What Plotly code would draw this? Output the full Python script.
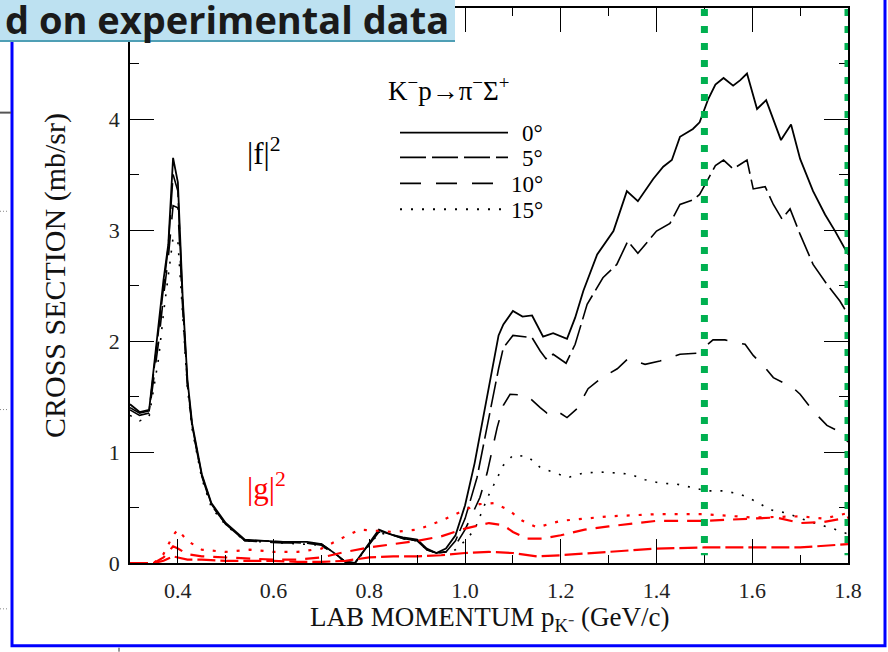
import plotly.graph_objects as go

# ---------------- data ----------------
low_x = [0.30, 0.32, 0.34, 0.36, 0.37, 0.38, 0.39, 0.40, 0.41, 0.42, 0.43, 0.45, 0.47, 0.50,
         0.54, 0.58, 0.62, 0.67, 0.70, 0.73, 0.75, 0.77, 0.79, 0.82, 0.85, 0.87, 0.90, 0.92, 0.94]

f0_low = [1.43, 1.36, 1.38, 2.15, 2.55, 2.87, 3.65, 3.43, 2.40, 1.65, 1.25, 0.80, 0.54, 0.36,
          0.21, 0.20, 0.19, 0.19, 0.17, 0.08, 0.01, 0.00, 0.12, 0.30, 0.25, 0.23, 0.21, 0.13, 0.09]
f5_low = [1.40, 1.35, 1.37, 2.10, 2.50, 2.85, 3.50, 3.35, 2.35, 1.62, 1.23, 0.79, 0.53, 0.35,
          0.20, 0.20, 0.19, 0.18, 0.17, 0.08, 0.01, 0.00, 0.12, 0.29, 0.25, 0.22, 0.20, 0.12, 0.09]
f10_low = [1.38, 1.33, 1.35, 2.00, 2.40, 2.75, 3.22, 3.20, 2.30, 1.60, 1.22, 0.78, 0.52, 0.35,
           0.20, 0.19, 0.18, 0.18, 0.16, 0.07, 0.01, 0.00, 0.11, 0.28, 0.25, 0.22, 0.20, 0.12, 0.09]
f15_low = [1.33, 1.28, 1.32, 1.85, 2.25, 2.60, 2.93, 2.90, 2.25, 1.58, 1.20, 0.76, 0.50, 0.34,
           0.20, 0.19, 0.18, 0.17, 0.16, 0.07, 0.01, 0.00, 0.11, 0.27, 0.25, 0.22, 0.20, 0.12, 0.09]

f0_hx = [0.96, 0.98, 1.00, 1.02, 1.04, 1.06, 1.07, 1.08, 1.10, 1.12, 1.14, 1.163, 1.184, 1.213,
         1.23, 1.247, 1.276, 1.31, 1.338, 1.361, 1.393, 1.414, 1.432, 1.449, 1.476, 1.49, 1.508,
         1.523, 1.54, 1.56, 1.575, 1.589, 1.61, 1.629, 1.644, 1.66, 1.681, 1.70, 1.727, 1.752,
         1.773, 1.80]
f0_hy = [0.13, 0.25, 0.52, 0.90, 1.35, 1.82, 2.05, 2.15, 2.27, 2.22, 2.23, 2.04, 2.07, 2.02,
         2.21, 2.45, 2.78, 2.99, 3.35, 3.26, 3.46, 3.57, 3.63, 3.84, 3.91, 3.97, 4.18,
         4.31, 4.37, 4.30, 4.35, 4.41, 4.09, 4.17, 4.00, 3.81, 3.95, 3.64, 3.35, 3.14,
         2.99, 2.78]

f5_hx = [0.96, 0.98, 1.00, 1.025, 1.046, 1.06, 1.07, 1.08, 1.10, 1.14, 1.157, 1.169, 1.184, 1.211,
         1.23, 1.255, 1.288, 1.317, 1.34, 1.361, 1.40, 1.428, 1.449, 1.476, 1.49, 1.508, 1.523,
         1.54, 1.56, 1.589, 1.602, 1.627, 1.644, 1.662, 1.679, 1.70, 1.727, 1.756, 1.783, 1.80]
f5_hy = [0.10, 0.20, 0.40, 0.77, 1.22, 1.55, 1.75, 1.94, 2.05, 2.03, 1.91, 1.84, 1.88, 1.80,
         1.97, 2.33, 2.57, 2.69, 2.90, 2.79, 2.99, 3.06, 3.23, 3.27, 3.32, 3.46, 3.58,
         3.63, 3.55, 3.63, 3.37, 3.39, 3.23, 3.10, 3.19, 2.96, 2.69, 2.51, 2.36, 2.24]

f10_hx = [0.96, 0.98, 1.00, 1.031, 1.046, 1.067, 1.08, 1.094, 1.129, 1.157, 1.171, 1.188, 1.213,
          1.234, 1.257, 1.286, 1.318, 1.34, 1.376, 1.407, 1.449, 1.485, 1.518, 1.543, 1.585,
          1.602, 1.623, 1.644, 1.685, 1.70, 1.727, 1.756, 1.783, 1.80]
f10_hy = [0.10, 0.16, 0.30, 0.59, 0.81, 1.22, 1.42, 1.52, 1.51, 1.40, 1.35, 1.38, 1.31,
          1.39, 1.57, 1.67, 1.75, 1.84, 1.79, 1.82, 1.88, 1.89, 2.01, 2.01, 1.97,
          1.87, 1.78, 1.67, 1.58, 1.52, 1.37, 1.24, 1.18, 1.09]

f15_hx = [0.96, 0.98, 1.00, 1.02, 1.048, 1.063, 1.08, 1.10, 1.131, 1.157, 1.184, 1.215, 1.247,
          1.282, 1.318, 1.345, 1.376, 1.407, 1.443, 1.476, 1.505, 1.54, 1.575, 1.61, 1.637,
          1.672, 1.702, 1.737, 1.769, 1.80]
f15_hy = [0.10, 0.12, 0.20, 0.30, 0.60, 0.73, 0.88, 0.97, 0.96, 0.86, 0.82, 0.77, 0.81,
          0.82, 0.81, 0.80, 0.75, 0.72, 0.71, 0.68, 0.65, 0.65, 0.62, 0.55, 0.48,
          0.45, 0.40, 0.35, 0.31, 0.26]

g5_x = [0.30, 0.35, 0.37, 0.39, 0.40, 0.42, 0.45, 0.50, 0.55, 0.60, 0.65, 0.70, 0.75, 0.80,
        0.85, 0.90, 0.95, 1.00, 1.05, 1.10, 1.15, 1.20, 1.30, 1.40, 1.50, 1.60, 1.70, 1.80]
g5_y = [0.00, 0.00, 0.02, 0.06, 0.05, 0.03, 0.03, 0.02, 0.02, 0.02, 0.01, 0.01, 0.02, 0.05,
        0.06, 0.06, 0.07, 0.09, 0.10, 0.09, 0.06, 0.07, 0.10, 0.13, 0.14, 0.14, 0.14, 0.17]

g10_x = [0.30, 0.35, 0.37, 0.39, 0.40, 0.42, 0.45, 0.50, 0.55, 0.60, 0.65, 0.70, 0.75, 0.80,
         0.85, 0.90, 0.95, 1.00, 1.05, 1.08, 1.10, 1.13, 1.16, 1.20, 1.25, 1.30, 1.40, 1.50,
         1.60, 1.65, 1.70, 1.75, 1.80]
g10_y = [0.00, 0.00, 0.05, 0.15, 0.13, 0.08, 0.06, 0.05, 0.04, 0.03, 0.03, 0.05, 0.10, 0.14,
         0.17, 0.20, 0.24, 0.31, 0.36, 0.34, 0.28, 0.22, 0.22, 0.25, 0.30, 0.33, 0.38, 0.38,
         0.40, 0.41, 0.36, 0.37, 0.41]

g15_x = [0.30, 0.35, 0.37, 0.39, 0.40, 0.42, 0.45, 0.50, 0.55, 0.60, 0.65, 0.70, 0.75, 0.78,
         0.85, 0.90, 0.95, 1.00, 1.03, 1.06, 1.09, 1.12, 1.15, 1.20, 1.30, 1.40, 1.50, 1.60,
         1.70, 1.75, 1.80]
g15_y = [0.00, 0.00, 0.08, 0.25, 0.30, 0.20, 0.12, 0.10, 0.12, 0.10, 0.10, 0.13, 0.24, 0.30,
         0.28, 0.30, 0.38, 0.48, 0.53, 0.54, 0.48, 0.38, 0.32, 0.38, 0.42, 0.44, 0.44, 0.41,
         0.42, 0.40, 0.45]

highlight_x = [1.5, 1.8]
x_ticks = [0.4, 0.6, 0.8, 1.0, 1.2, 1.4, 1.6, 1.8]
y_ticks = [0, 1, 2, 3, 4]
angle_labels = ["0°", "5°", "10°", "15°"]

# ---------------- styling ----------------
W, H = 888, 652
L, R, T, B = 130, 40, 6, 89
PW, PH = W - L - R, H - T - B


def px(xp):
    return (xp - L) / PW


def py(yp):
    return (H - B - yp) / PH


SERIF = "Liberation Serif"
black_dash = [None, "26px,6px", "21px,15px", "2px,9px"]
red_dash = ["18px,5px", "14px,9px", "3px,9px"]

fig = go.Figure()

black_sets = [
    (low_x + f0_hx, f0_low + f0_hy),
    (low_x + f5_hx, f5_low + f5_hy),
    (low_x + f10_hx, f10_low + f10_hy),
    (low_x + f15_hx, f15_low + f15_hy),
]
for i, (xs, ys) in enumerate(black_sets):
    assert len(xs) == len(ys)
    fig.add_trace(go.Scatter(
        x=xs, y=ys, mode="lines", showlegend=False, hoverinfo="skip",
        line=dict(color="black", width=1.8 if i == 0 else 1.6,
                  dash=black_dash[i] if black_dash[i] else "solid")))

red_sets = [(g5_x, g5_y), (g10_x, g10_y), (g15_x, g15_y)]
for i, (xs, ys) in enumerate(red_sets):
    assert len(xs) == len(ys)
    fig.add_trace(go.Scatter(
        x=xs, y=ys, mode="lines", showlegend=False, hoverinfo="skip",
        line=dict(color="#ff0000", width=2.2, dash=red_dash[i])))

shapes = []
# green highlight lines
for hx in highlight_x:
    shapes.append(dict(type="line", xref="x", yref="y", x0=hx, x1=hx, y0=4.99, y1=0.07,
                       line=dict(color="#00b050", width=7, dash="7px,10px"), layer="above"))

# legend keys
leg_y = [131, 156, 182, 208]
for i, ly in enumerate(leg_y):
    shapes.append(dict(type="line", xref="paper", yref="paper", x0=px(400), x1=px(508),
                       y0=py(ly), y1=py(ly),
                       line=dict(color="black", width=1.8,
                                 dash=black_dash[i] if black_dash[i] else "solid")))

# blue frame of the slide object
shapes.append(dict(type="rect", xref="paper", yref="paper", x0=px(12), x1=px(885),
                   y0=py(646), y1=py(-20), line=dict(color="#0000ff", width=3)))
# banner
shapes.append(dict(type="rect", xref="paper", yref="paper", x0=px(-5), x1=px(455),
                   y0=py(39), y1=py(-5), fillcolor="#bde1f1", line=dict(width=0), layer="above"))
shapes.append(dict(type="line", xref="paper", yref="paper", x0=px(-5), x1=px(455),
                   y0=py(39), y1=py(39), line=dict(color="#4f9fb5", width=2), layer="above"))
# bits of neighbouring slide objects at left edge
shapes.append(dict(type="line", xref="paper", yref="paper", x0=px(0), x1=px(11),
                   y0=py(111), y1=py(111), line=dict(color="#555555", width=2)))
for yy in [210, 409, 609]:
    shapes.append(dict(type="line", xref="paper", yref="paper", x0=px(0), x1=px(8),
                       y0=py(yy), y1=py(yy), line=dict(color="#888888", width=1, dash="1px,2px")))
shapes.append(dict(type="line", xref="paper", yref="paper", x0=px(119), x1=px(119),
                   y0=py(648), y1=py(652), line=dict(color="#333333", width=1)))

annotations = []
annotations.append(dict(xref="paper", yref="paper", x=px(386), y=py(87), xanchor="left",
                        yanchor="middle", showarrow=False,
                        text="K<sup>−</sup>p→π<sup>−</sup>Σ<sup>+</sup>",
                        font=dict(family=SERIF, size=27, color="black")))
for i, ly in enumerate(leg_y):
    annotations.append(dict(xref="paper", yref="paper", x=px(545), y=py(ly + 1),
                            xanchor="right", yanchor="middle", showarrow=False,
                            text=angle_labels[i],
                            font=dict(family=SERIF, size=23, color="black")))
annotations.append(dict(xref="paper", yref="paper", x=px(245), y=py(150), xanchor="left",
                        yanchor="middle", showarrow=False, text="|f|<sup>2</sup>",
                        font=dict(family=SERIF, size=31, color="black")))
annotations.append(dict(xref="paper", yref="paper", x=px(245), y=py(486), xanchor="left",
                        yanchor="middle", showarrow=False, text="|g|<sup>2</sup>",
                        font=dict(family=SERIF, size=31, color="#ff0000")))
annotations.append(dict(xref="paper", yref="paper", x=px(55), y=py(275), xanchor="center",
                        yanchor="middle", showarrow=False, textangle=-90,
                        text="CROSS SECTION (mb/sr)",
                        font=dict(family=SERIF, size=30, color="#111111")))
annotations.append(dict(xref="paper", yref="paper", x=px(489), y=py(619), xanchor="center",
                        yanchor="middle", showarrow=False,
                        text="LAB MOMENTUM p<sub>K⁻</sub> (GeV/c)",
                        font=dict(family=SERIF, size=27, color="#111111")))
annotations.append(dict(xref="paper", yref="paper", x=px(451), y=py(17), xanchor="right",
                        yanchor="middle", showarrow=False, text="<b>d on experimental data</b>",
                        font=dict(family="Open Sans", size=38, color="#1a1a1a")))

axis_common = dict(showline=True, linecolor="black", linewidth=1.6, mirror="ticks",
                   ticks="inside", ticklen=24, tickwidth=1.3, tickcolor="black",
                   showgrid=False, zeroline=False,
                   tickfont=dict(family=SERIF, size=22, color="#222222"))

fig.update_layout(
    width=W, height=H, autosize=False,
    margin=dict(l=L, r=R, t=T, b=B, pad=0),
    paper_bgcolor="white", plot_bgcolor="white",
    xaxis=dict(range=[0.3, 1.8], tickvals=x_ticks, tickformat=".1f",
               minor=dict(dtick=0.1, tick0=0.3, ticks="inside", ticklen=8, tickwidth=1.3,
                          tickcolor="black"),
               ticklabelstandoff=7, **axis_common),
    yaxis=dict(range=[0, 5], tickvals=y_ticks,
               minor=dict(dtick=0.5, tick0=0, ticks="inside", ticklen=9, tickwidth=1.3,
                          tickcolor="black"),
               ticklabelstandoff=4, **axis_common),
    shapes=shapes, annotations=annotations,
)

fig.write_html("out.html")
